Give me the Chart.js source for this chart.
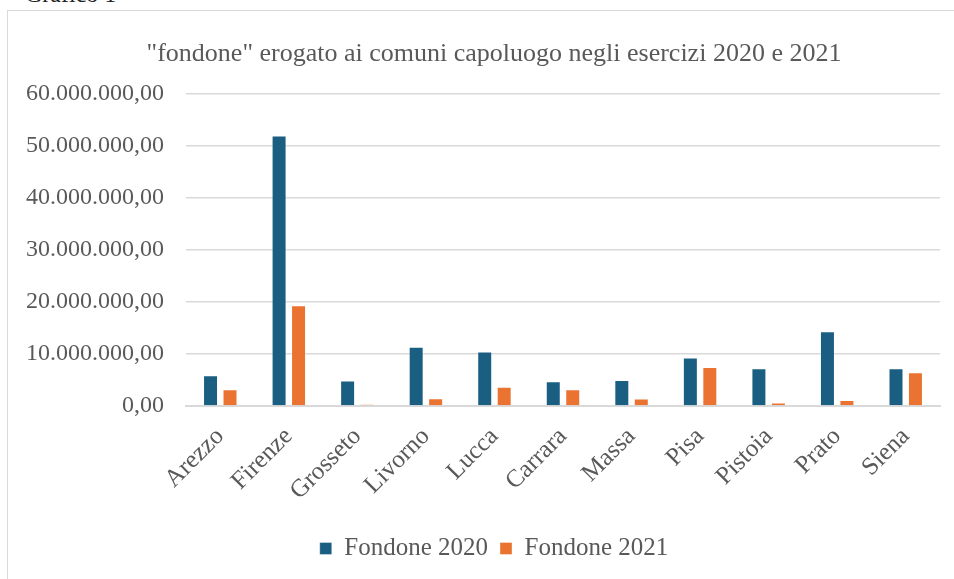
<!DOCTYPE html>
<html>
<head>
<meta charset="utf-8">
<script src="https://cdn.jsdelivr.net/npm/chart.js@4.4.0/dist/chart.umd.min.js"></script>
<style>
  body { margin: 0; width: 954px; height: 579px; overflow: hidden; background: #fff; position: relative; font-family: "Liberation Serif", serif; }
  .frame { position: absolute; left: 7px; top: 10px; width: 1000px; height: 1000px; border: 1.5px solid #d9d9d9; }
  .caption { position: absolute; left: 25px; top: -19px; font-size: 24px; color: #222; }
  #myChart { position: absolute; left: 0; top: 0; }
</style>
</head>
<body>
<div class="caption">Grafico 1</div>
<div class="frame"></div>
<canvas id="myChart" width="954" height="579"></canvas>
<script>
const categories = ["Arezzo", "Firenze", "Grosseto", "Livorno", "Lucca", "Carrara", "Massa", "Pisa", "Pistoia", "Prato", "Siena"];
const fondone2020 = [5900000, 52050000, 4900000, 11400000, 10500000, 4750000, 5000000, 9350000, 7250000, 14400000, 7250000];
const fondone2021 = [3200000, 19400000, 350000, 1500000, 3700000, 3200000, 1450000, 7500000, 650000, 1150000, 6500000];
const yTicks = [0, 10000000, 20000000, 30000000, 40000000, 50000000, 60000000];
const yTickLabels = ["0,00", "10.000.000,00", "20.000.000,00", "30.000.000,00", "40.000.000,00", "50.000.000,00", "60.000.000,00"];

const grey = "#595959";
const serif = "'Liberation Serif', serif";

// title and legend in the original are centred on the whole frame, not on the canvas
const shiftBlocks = {
  id: "shiftBlocks",
  afterLayout(chart) {
    chart.titleBlock.left = 48;
    chart.legend.left = 48;
  },
};

const ctx = document.getElementById("myChart");

var myChart = new Chart(ctx, {
  type: "bar",
  data: {
    labels: categories,
    datasets: [
      {
        label: "Fondone 2020",
        data: fondone2020,
        backgroundColor: "#1a5e82",
        borderColor: "rgba(255,255,255,0.35)",
        borderWidth: 1,
        categoryPercentage: 0.568,
        barPercentage: 0.77,
      },
      {
        label: "Fondone 2021",
        data: fondone2021,
        backgroundColor: "#eb7332",
        borderColor: "rgba(255,255,255,0.35)",
        borderWidth: 1,
        categoryPercentage: 0.568,
        barPercentage: 0.77,
      },
    ],
  },
  options: {
    responsive: false,
    animation: false,
    layout: { padding: { left: 0, right: 14, top: 0, bottom: 8 } },
    plugins: {
      title: {
        display: true,
        text: '"fondone" erogato ai comuni capoluogo negli esercizi 2020 e 2021',
        color: grey,
        font: { family: serif, size: 26, weight: "normal" },
        padding: { top: 39, bottom: 24 },
      },
      legend: {
        position: "bottom",
        labels: {
          color: grey,
          font: { family: serif, size: 25 },
          boxWidth: 12,
          boxHeight: 12,
          padding: 12,
        },
      },
      tooltip: { enabled: false },
    },
    scales: {
      x: {
        grid: { display: false },
        border: { display: true, color: "#d9d9d9", width: 2 },
        ticks: {
          color: grey,
          font: { family: serif, size: 25 },
          minRotation: 45,
          maxRotation: 45,
          padding: 8,
        },
        afterFit: (scale) => { scale.height = 118; },
      },
      y: {
        min: 0,
        max: 60000000,
        afterBuildTicks: (scale) => { scale.ticks = yTicks.map((v) => ({ value: v })); },
        grid: { color: "#d9d9d9", lineWidth: 1.5, drawTicks: false },
        border: { display: false },
        ticks: {
          color: grey,
          font: { family: serif, size: 24 },
          padding: 22,
          callback: (value, index) => yTickLabels[index],
        },
        afterFit: (scale) => { scale.width = 186; },
      },
    },
  },
  plugins: [shiftBlocks],
});
</script>
</body>
</html>
